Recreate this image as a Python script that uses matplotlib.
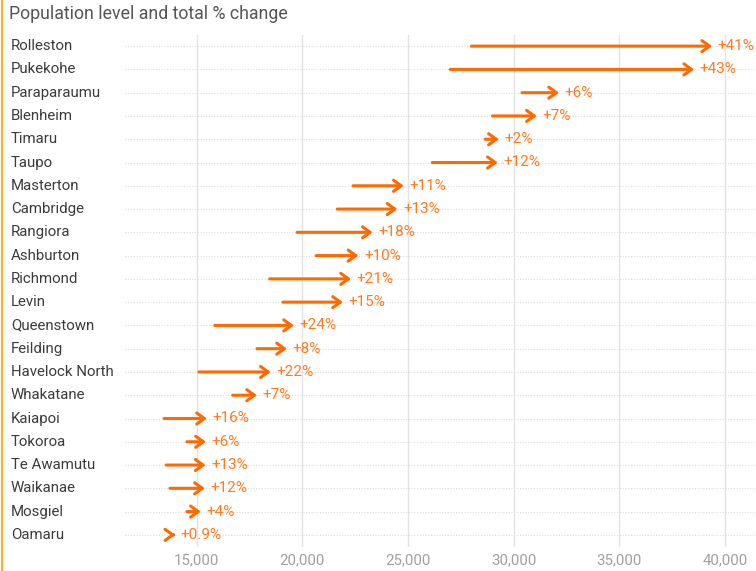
import matplotlib
matplotlib.use("Agg")
import matplotlib.pyplot as plt
from matplotlib.transforms import blended_transform_factory
from matplotlib.lines import Line2D

towns = ["Rolleston", "Pukekohe", "Paraparaumu", "Blenheim", "Timaru", "Taupo",
         "Masterton", "Cambridge", "Rangiora", "Ashburton", "Richmond", "Levin",
         "Queenstown", "Feilding", "Havelock North", "Whakatane", "Kaiapoi",
         "Tokoroa", "Te Awamutu", "Waikanae", "Mosgiel", "Oamaru"]
start_pop = [28000, 27000, 30400, 29000, 28650, 26150,
             22400, 21650, 19750, 20650, 18450, 19080,
             15850, 17850, 15100, 16700, 13450,
             14530, 13550, 13730, 14530, 13850]
end_pop = [39400, 38550, 32150, 31100, 29300, 29250,
           24800, 24500, 23330, 22650, 22300, 21920,
           19600, 19270, 18500, 17850, 15480,
           15430, 15420, 15380, 15190, 13980]
pct_labels = ["+41%", "+43%", "+6%", "+7%", "+2%", "+12%",
              "+11%", "+13%", "+18%", "+10%", "+21%", "+15%",
              "+24%", "+8%", "+22%", "+7%", "+16%",
              "+6%", "+13%", "+12%", "+4%", "+0.9%"]
x_ticks = [15000, 20000, 25000, 30000, 35000, 40000]
x_tick_labels = ["15,000", "20,000", "25,000", "30,000", "35,000", "40,000"]
title = "Population level and total % change"

plt.rcParams['font.family'] = ['Roboto', 'DejaVu Sans']

W, H = 756, 571
fig = plt.figure(figsize=(W / 100, H / 100), dpi=100)
ax_left, ax_right = 125, 755
ax_top, ax_bot = 34.5, 546.5
ax = fig.add_axes([ax_left / W, 1 - ax_bot / H, (ax_right - ax_left) / W, (ax_bot - ax_top) / H])

n = len(towns)
ys = list(range(n))
ax.set_ylim(n - 0.5, -0.5)
ax.set_xlim(11600, 41430)

for s in ax.spines.values():
    s.set_visible(False)
ax.tick_params(axis='y', left=False, labelleft=False)
ax.tick_params(axis='x', bottom=False, labelsize=10.8, labelcolor='#a0a0a0', pad=1.5)
ax.set_xticks(x_ticks)
ax.set_xticklabels(x_tick_labels)

for xt in x_ticks:
    ax.axvline(xt, color='#e3e3e3', lw=1.0, zorder=0)
for y in ys:
    ax.axhline(y, color='#dcdcdc', lw=0.8, ls=(0, (1, 1.5)), zorder=0)

arrow_color = '#FF6A00'
label_color = '#FF7A1C'
for y, s0, s1, lab in zip(ys, start_pop, end_pop, pct_labels):
    ax.annotate("", xy=(s1, y), xytext=(s0, y),
                arrowprops=dict(arrowstyle='->,head_length=0.55,head_width=0.4',
                                color=arrow_color, lw=2.2, shrinkA=0, shrinkB=0),
                zorder=3)
    ax.annotate(lab, xy=(s1, y), xytext=(4, 0), textcoords='offset points',
                ha='left', va='center', fontsize=11, color=label_color, zorder=4)

tr = blended_transform_factory(fig.transFigure, ax.transData)
for y, t in zip(ys, towns):
    ax.text(11 / W, y, t, transform=tr, ha='left', va='center',
            fontsize=10.8, color='#3c3c3c')

fig.text(9 / W, 1 - 14 / H, title, ha='left', va='center', fontsize=12.8, color='#555555')

fig.add_artist(Line2D([1.5 / W, 1.5 / W], [0, 1], transform=fig.transFigure,
                      color='#F2B632', lw=1.6))

fig.savefig("out.png", dpi=100)
